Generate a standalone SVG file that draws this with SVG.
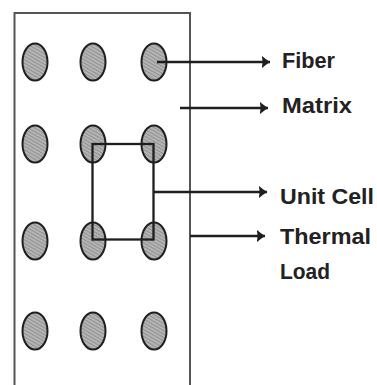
<svg xmlns="http://www.w3.org/2000/svg" width="377" height="385" viewBox="0 0 377 385">
<style>
.frame{fill:none;stroke:#555;stroke-width:2}
.fib{fill:url(#hatch);stroke:#1e1e1e;stroke-width:2}
.ln{fill:none;stroke:#1e1e1e;stroke-width:2.3}
.lbl{font-family:"Liberation Sans",Arial,sans-serif;font-weight:bold;font-size:22px;fill:#222}
</style>
<defs>
<pattern id="hatch" width="3" height="3" patternUnits="userSpaceOnUse" patternTransform="rotate(30)">
<rect width="3" height="3" fill="#b4b4b4"/>
<line x1="0" y1="0" x2="3" y2="0" stroke="#6e6e6e" stroke-width="1"/>
</pattern>
<marker id="ah" markerUnits="userSpaceOnUse" markerWidth="9" markerHeight="14" refX="8.5" refY="7" orient="auto">
<path d="M0,0.5 Q4,4 8.5,7 Q4,10 0,13.5 Q2,7 0,0.5 z" fill="#1e1e1e"/>
</marker>
</defs>
<rect width="377" height="385" fill="#fff"/>
<g id="plate">
<path class="frame" d="M14.5,390 V13 H190 V390"/>
</g>
<g id="fibers">
<ellipse class="fib" cx="35" cy="62" rx="12.5" ry="18.5"/>
<ellipse class="fib" cx="93" cy="62" rx="12.5" ry="18.5"/>
<ellipse class="fib" cx="154" cy="62" rx="12.5" ry="18.5"/>
<ellipse class="fib" cx="35" cy="144" rx="12.5" ry="18.5"/>
<ellipse class="fib" cx="93" cy="144" rx="12.5" ry="18.5"/>
<ellipse class="fib" cx="154" cy="144" rx="12.5" ry="18.5"/>
<ellipse class="fib" cx="35" cy="241" rx="12.5" ry="18.5"/>
<ellipse class="fib" cx="93" cy="241" rx="12.5" ry="18.5"/>
<ellipse class="fib" cx="154" cy="241" rx="12.5" ry="18.5"/>
<ellipse class="fib" cx="35" cy="331" rx="12.5" ry="18.5"/>
<ellipse class="fib" cx="93" cy="331" rx="12.5" ry="18.5"/>
<ellipse class="fib" cx="154" cy="331" rx="12.5" ry="18.5"/>
</g>
<g id="unit-cell">
<rect class="ln" x="92.5" y="144" width="61" height="95.5"/>
</g>
<g id="connectors">
<line class="ln" x1="157" y1="62" x2="270" y2="62" marker-end="url(#ah)"/>
<line class="ln" x1="180" y1="108" x2="268" y2="108" marker-end="url(#ah)"/>
<line class="ln" x1="153.5" y1="192" x2="267" y2="192" marker-end="url(#ah)"/>
<line class="ln" x1="190" y1="236" x2="265" y2="236" marker-end="url(#ah)"/>
</g>
<g id="labels">
<text class="lbl" x="282" y="68" textLength="53" lengthAdjust="spacingAndGlyphs">Fiber</text>
<text class="lbl" x="282" y="113" textLength="70" lengthAdjust="spacingAndGlyphs">Matrix</text>
<text class="lbl" x="280" y="204" textLength="94" lengthAdjust="spacingAndGlyphs">Unit Cell</text>
<text class="lbl" x="280" y="244" textLength="91" lengthAdjust="spacingAndGlyphs">Thermal</text>
<text class="lbl" x="280" y="279" textLength="50" lengthAdjust="spacingAndGlyphs">Load</text>
</g>
</svg>
